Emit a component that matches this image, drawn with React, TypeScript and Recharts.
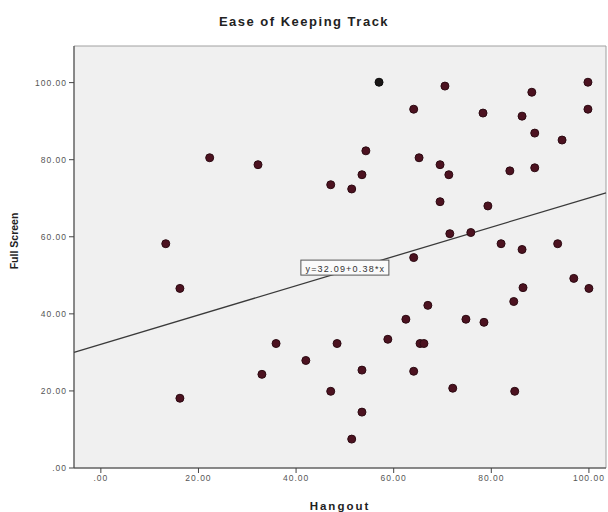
import {
  ScatterChart,
  Scatter,
  XAxis,
  YAxis,
  CartesianGrid,
  ReferenceLine,
  ReferenceArea,
  ReferenceDot,
} from "recharts";

// values
const hangout = [
  13.3, 16.2, 16.2, 22.3, 32.2, 33.0, 35.9, 42.0, 47.1, 47.1, 48.4, 51.4, 51.4, 53.5,
  54.3, 53.5, 53.5, 58.8, 62.5, 64.1, 64.1, 64.1, 65.2, 65.4, 66.2, 67.0, 69.5, 69.5,
  70.5, 71.3, 71.5, 72.1, 74.8, 75.8, 78.3, 78.5, 79.3, 82.0, 83.8, 84.6, 84.8, 86.3,
  86.3, 86.5, 88.3, 88.9, 88.9, 94.5, 93.6, 96.9, 99.8, 99.8, 100.0,
];
const fullScreen = [
  58.2, 46.6, 18.1, 80.5, 78.7, 24.3, 32.3, 27.9, 73.5, 19.9, 32.3, 72.4, 7.5, 76.1,
  82.3, 25.4, 14.5, 33.4, 38.6, 93.1, 54.6, 25.1, 80.5, 32.3, 32.3, 42.2, 78.7, 69.1,
  99.1, 76.1, 60.8, 20.7, 38.6, 61.1, 92.1, 37.8, 68.0, 58.2, 77.1, 43.2, 19.9, 91.3,
  56.7, 46.8, 97.5, 86.9, 77.9, 85.1, 58.2, 49.2, 100.1, 93.1, 46.6,
];
// the darker (overlapping) point near the top
const darkPoint = [{ x: 57.0, y: 100.1 }];

const intercept = 32.09;
const slope = 0.38;
const xTicks = [0, 20, 40, 60, 80, 100];
const yTicks = [0, 20, 40, 60, 80, 100];
const xDomain = [-5.5, 103.5];
const yDomain = [0, 109.5];

const points = hangout.map((x, i) => ({ x, y: fullScreen[i] }));

const font = "Liberation Sans, Arial, sans-serif";
const fmt = (v: number) => (v === 0 ? ".00" : v.toFixed(2));

const Dot = (props: any) => (
  <circle cx={props.cx} cy={props.cy} r={4} fill="#4c1220" stroke="#2c0a12" strokeWidth={1} />
);
const DarkDot = (props: any) => (
  <circle cx={props.cx} cy={props.cy} r={4} fill="#1a1616" stroke="#0d0d0d" strokeWidth={1} />
);

const EquationLabel = (props: any) => (
  <g>
    <rect x={props.cx - 44} y={props.cy - 11} width={88} height={15} fill="#fafafa" stroke="#555" strokeWidth={1} />
    <text
      x={props.cx + 0.5}
      y={props.cy + 0.5}
      textAnchor="middle"
      fontSize={9}
      letterSpacing={1.2}
      fill="#333"
      fontFamily={font}
    >
      y=32.09+0.38*x
    </text>
  </g>
);

const tickStyle = { fill: "#555", fontSize: 8.5, letterSpacing: 1, fontFamily: font };

export default function App() {
  return (
    <div style={{ position: "absolute", left: 0, top: 0, width: 608, height: 512, background: "#fff" }}>
      <div
        style={{
          position: "absolute",
          top: 14,
          left: 0,
          width: 608,
          textAlign: "center",
          fontFamily: font,
          fontWeight: "bold",
          fontSize: 13,
          letterSpacing: 1.5,
          color: "#222",
        }}
      >
        Ease of Keeping Track
      </div>
      <ScatterChart width={608} height={512} margin={{ top: 46, right: 2, bottom: 0, left: 0 }}>
        <CartesianGrid fill="#f0f0f0" horizontal={false} vertical={false} />
        <ReferenceArea
          x1={xDomain[0]}
          x2={xDomain[1]}
          y1={yDomain[0]}
          y2={yDomain[1]}
          fill="none"
          stroke="#a0a0a0"
          strokeWidth={1}
        />
        <XAxis
          type="number"
          dataKey="x"
          domain={xDomain}
          ticks={xTicks}
          tickFormatter={fmt}
          height={44}
          tickSize={5}
          stroke="#444"
          tick={tickStyle}
          label={{
            value: "Hangout",
            position: "insideBottom",
            offset: 2,
            style: { fontWeight: "bold", fontSize: 11.5, letterSpacing: 2, fill: "#222", fontFamily: font },
          }}
        />
        <YAxis
          type="number"
          dataKey="y"
          domain={yDomain}
          ticks={yTicks}
          tickFormatter={fmt}
          width={74}
          tickSize={5}
          stroke="#444"
          tick={tickStyle}
          label={{
            value: "Full Screen",
            angle: -90,
            position: "insideLeft",
            offset: 14,
            dy: -16,
            style: { fontWeight: "bold", fontSize: 10.5, fill: "#222", fontFamily: font, textAnchor: "middle" },
          }}
        />
        <ReferenceLine
          segment={[
            { x: xDomain[0], y: intercept + slope * xDomain[0] },
            { x: xDomain[1], y: intercept + slope * xDomain[1] },
          ]}
          stroke="#3a3a3a"
          strokeWidth={1.3}
        />
        <Scatter data={points} shape={Dot} isAnimationActive={false} />
        <Scatter data={darkPoint} shape={DarkDot} isAnimationActive={false} />
        <ReferenceDot x={50} y={intercept + slope * 50} r={0} shape={EquationLabel} />
      </ScatterChart>
    </div>
  );
}
